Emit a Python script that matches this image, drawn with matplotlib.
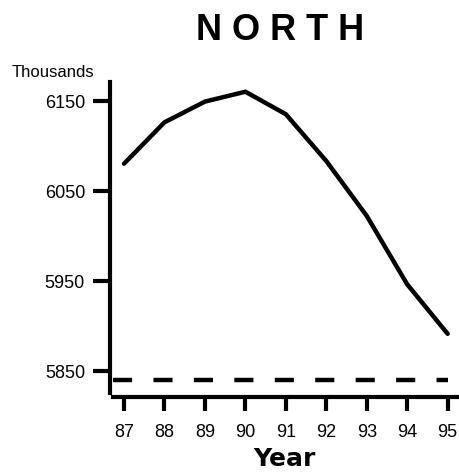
import matplotlib
matplotlib.use("Agg")
import matplotlib.pyplot as plt

years = [87, 88, 89, 90, 91, 92, 93, 94, 95]
values = [6080, 6126, 6149, 6160, 6135, 6083, 6022, 5946, 5891]
baseline = 5840
yticks = [5850, 5950, 6050, 6150]
title = "N O R T H"
xlabel = "Year"
unit_label = "Thousands"

W, H = 459, 477
fig = plt.figure(figsize=(W / 100, H / 100), dpi=100)
ax = fig.add_axes([110 / W, 79 / H, 1 - 110 / W, 315 / H])

ax.plot(years, values, color="black", lw=3.2, solid_joinstyle="miter", solid_capstyle="round")
xmin, xmax = 86.654, 95.28
ax.set_xlim(xmin, xmax)
ax.set_ylim(5820.8, 6170.8)
ax.axhline(baseline, xmin=0.01, xmax=(years[-1] - xmin) / (xmax - xmin),
           color="black", lw=3.2, dashes=(4.3, 4.8), dash_capstyle="butt")

for s in ("top", "right"):
    ax.spines[s].set_visible(False)
ax.spines["left"].set_linewidth(3)
ax.spines["bottom"].set_linewidth(3)
ax.spines["left"].set_bounds(5825, 6170.8)
ax.spines["bottom"].set_bounds(86.73, xmax)

ax.set_xticks(years)
ax.set_xticklabels([str(y) for y in years])
ax.set_yticks(yticks)
ax.set_yticklabels([str(v) for v in yticks])
ax.tick_params(axis="y", direction="out", length=12, width=3, pad=6,
               labelsize=13)
ax.tick_params(axis="x", direction="out", length=10, width=3, pad=9,
               labelsize=13)
for lab in ax.get_xticklabels() + ax.get_yticklabels():
    lab.set_fontfamily("Liberation Sans")

ax.set_xlabel(xlabel, fontsize=18, fontweight="bold", family="DejaVu Sans", labelpad=4)

fig.text(280 / W, 1 - 40 / H, title, ha="center", va="baseline",
         fontsize=26, fontweight="bold", family="Liberation Sans")
fig.text(12 / W, 1 - 77 / H, unit_label, ha="left", va="baseline",
         fontsize=12, family="Liberation Sans")

fig.savefig("out.png", dpi=100)
